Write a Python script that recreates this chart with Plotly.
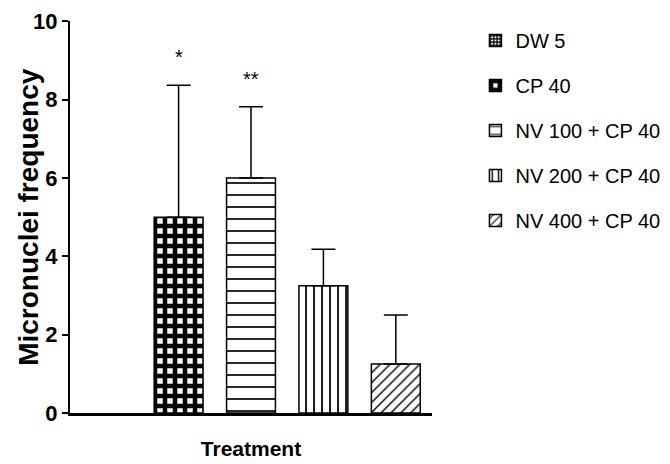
import plotly.graph_objects as go

groups = ["DW 5", "CP 40", "NV 100 + CP 40", "NV 200 + CP 40", "NV 400 + CP 40"]
means = [None, 5.0, 6.0, 3.25, 1.25]
errors = [0, 3.37, 1.82, 0.93, 1.25]
stars = ["", "*", "**", "", ""]

# pattern per group: (shape, size, solidity)
patterns = [
    ("+", 4, 0.6),
    ("+", 10, 0.7),
    ("-", 12, 0.14),
    ("|", 8, 0.22),
    ("/", 7, 0.2),
]

sans = "Liberation Sans, Arial"

fig = go.Figure()

for i, g in enumerate(groups):
    shape, size, solidity = patterns[i]
    fig.add_trace(go.Bar(
        x=[g],
        y=[means[i]],
        name=g,
        legendgroup=g,
        width=0.675,
        marker=dict(
            color="white",
            line=dict(color="black", width=1.5),
            pattern=dict(shape=shape, size=size, solidity=solidity,
                         fgcolor="black", bgcolor="white", fillmode="replace"),
        ),
        error_y=dict(
            type="data",
            symmetric=False,
            array=[errors[i]],
            arrayminus=[0],
            color="black",
            thickness=1.5,
            width=12,
            visible=errors[i] > 0,
        ),
    ))
    if stars[i]:
        fig.add_annotation(
            x=g,
            y=means[i] + errors[i],
            text=stars[i],
            showarrow=False,
            yanchor="bottom",
            yshift=15,
            font=dict(family=sans, size=20, color="black"),
        )

# y title as a rotated annotation so it can sit close to the page edge
fig.add_annotation(
    xref="paper", yref="paper",
    x=-0.161, y=0.501,
    text="<b>Micronuclei frequency</b>",
    textangle=-90,
    showarrow=False,
    xanchor="left", yanchor="middle",
    borderpad=0,
    font=dict(family=sans, size=28, color="black"),
)

fig.update_layout(
    template="plotly_white",
    width=670,
    height=456,
    margin=dict(l=62, r=223, t=13, b=51),
    barmode="overlay",
    plot_bgcolor="white",
    paper_bgcolor="white",
    showlegend=True,
    legend=dict(
        x=1.12,
        y=1.0,
        xanchor="left",
        yanchor="top",
        traceorder="grouped",
        tracegroupgap=16,
        font=dict(family=sans, size=20, color="black"),
    ),
    xaxis=dict(
        range=[-0.5, 4.5],
        automargin=False,
        showticklabels=False,
        ticks="",
        showgrid=False,
        zeroline=False,
        showline=True,
        linecolor="black",
        linewidth=2.5,
        title=dict(text="<b>Treatment</b>", standoff=27,
                   font=dict(family=sans, size=21, color="black")),
    ),
    yaxis=dict(
        range=[0, 10.01],
        automargin=False,
        tickvals=[0, 2, 4, 6, 8, 10],
        ticks="outside",
        ticklen=6,
        tickwidth=2,
        tickcolor="black",
        ticklabeloverflow="allow",
        showgrid=False,
        zeroline=False,
        showline=True,
        linecolor="black",
        linewidth=2,
        tickfont=dict(family=sans, size=22, color="black", weight="bold"),
    ),
)

fig.write_html("out.html")
